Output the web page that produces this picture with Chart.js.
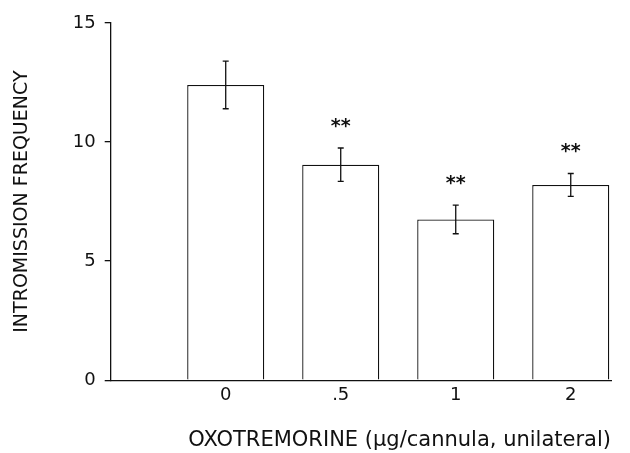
<!DOCTYPE html>
<html>
<head>
<meta charset="utf-8">
<script src="https://cdn.jsdelivr.net/npm/chart.js@4.4.1/dist/chart.umd.min.js"></script>
<style>
    html, body { margin: 0; padding: 0; background: #fff; }
    #wrap { width: 630px; height: 453px; }
</style>
</head>
<body>
<div id="wrap"><canvas id="grafico"></canvas></div>
<script>
const categories = ['0', '.5', '1', '2'];
const frequencia = [12.4, 9.05, 6.75, 8.2];
const erro = [1.0, 0.7, 0.6, 0.48];
const significancia = ['', '**', '**', '**'];
const yTicks = [0, 5, 10, 15];

const fonte = '"DejaVu Sans", sans-serif';

// barras em x = 1..4 numa escala linear, para deixar o espaço vazio antes do "0"
const pontos = frequencia.map((valor, i) => ({ x: i + 1, y: valor }));

const errorBarPlugin = {
    id: 'errorBars',
    afterDatasetsDraw(chart) {
        const ctx = chart.ctx;
        const yScale = chart.scales.y;
        const meta = chart.getDatasetMeta(0);
        ctx.save();
        ctx.strokeStyle = '#111';
        ctx.lineWidth = 1.3;
        meta.data.forEach((bar, i) => {
            const topo = yScale.getPixelForValue(frequencia[i] + erro[i]);
            const base = yScale.getPixelForValue(frequencia[i] - erro[i]);
            ctx.beginPath();
            ctx.moveTo(bar.x, topo);
            ctx.lineTo(bar.x, base);
            ctx.moveTo(bar.x - 3, topo);
            ctx.lineTo(bar.x + 3, topo);
            ctx.moveTo(bar.x - 3, base);
            ctx.lineTo(bar.x + 3, base);
            ctx.stroke();

            if (significancia[i]) {
                ctx.fillStyle = '#111';
                ctx.font = 'bold 19px ' + fonte;
                ctx.textAlign = 'center';
                ctx.textBaseline = 'middle';
                ctx.fillText(significancia[i], bar.x, topo - 21);
            }
        });
        ctx.restore();
    }
};

const context = document.getElementById('grafico').getContext('2d');

new Chart(context, {
    type: 'bar',
    data: {
        datasets: [{
            data: pontos,
            backgroundColor: '#fff',
            borderColor: '#111',
            borderWidth: 1.3,
            barPercentage: 0.67,
            categoryPercentage: 1
        }]
    },
    options: {
        responsive: true,
        maintainAspectRatio: false,
        animation: false,
        layout: { padding: { top: 23, right: 19, left: 11, bottom: 0 } },
        plugins: {
            legend: { display: false },
            tooltip: { enabled: false }
        },
        scales: {
            x: {
                type: 'linear',
                offset: false,
                min: 0,
                max: 4.35,
                afterBuildTicks: scale => {
                    scale.ticks = categories.map((c, i) => ({ value: i + 1 }));
                },
                grid: { display: true, offset: false, drawOnChartArea: false, drawTicks: false },
                border: { display: true, color: '#111', width: 1.3 },
                ticks: {
                    padding: 4,
                    color: '#111',
                    font: { family: fonte, size: 18 },
                    callback: value => categories[value - 1] ?? ''
                },
                title: {
                    display: true,
                    text: 'OXOTREMORINE (μg/cannula, unilateral)',
                    align: 'end',
                    color: '#111',
                    font: { family: fonte, size: 21 },
                    padding: { top: 18, bottom: 0 }
                }
            },
            y: {
                min: 0,
                max: 15,
                afterBuildTicks: scale => {
                    scale.ticks = yTicks.map(v => ({ value: v }));
                },
                grid: { display: true, drawOnChartArea: false, drawTicks: true, tickLength: 6, color: '#111', lineWidth: 1.3 },
                border: { display: true, color: '#111', width: 1.3 },
                ticks: {
                    padding: 9,
                    color: '#111',
                    font: { family: fonte, size: 18 }
                },
                title: {
                    display: true,
                    text: 'INTROMISSION FREQUENCY',
                    color: '#111',
                    font: { family: fonte, size: 19 },
                    padding: { top: 0, bottom: 30 }
                }
            }
        }
    },
    plugins: [errorBarPlugin]
});
</script>
</body>
</html>
